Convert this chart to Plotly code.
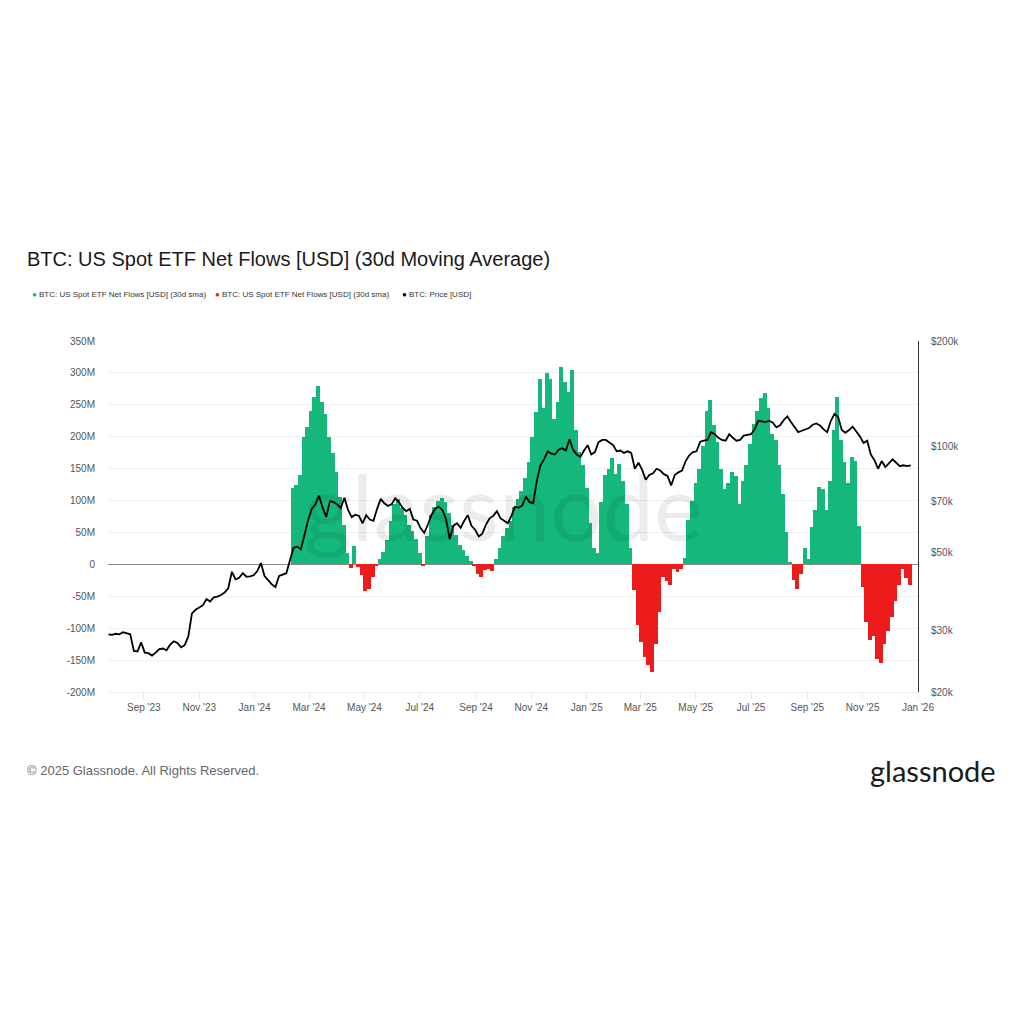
import pandas as pd
import plotly.graph_objects as go

# BTC price [USD, thousands], sampled every 4 days from 2023-07-24
price_start = "2023-07-24"
price_k = [
    29.2, 29.1, 29.3, 29.2, 29.6, 29.4, 29.2, 26.2, 26.1, 27.7,
    25.9, 25.8, 25.4, 25.9, 26.5, 26.6, 26.3, 27.3, 27.9, 27.6,
    26.8, 27.2, 28.8, 33.5, 34.3, 34.8, 35.3, 36.8, 36.2, 37.2,
    37.4, 37.8, 38.4, 39.5, 44.0, 41.9, 42.3, 43.6, 42.6, 42.7,
    43.0, 44.2, 46.6, 42.8, 41.6, 40.5, 39.8, 42.8, 43.2, 43.6,
    47.5, 51.5, 51.9, 51.0, 56.0, 61.8, 66.5, 68.5, 72.5, 67.0,
    63.0, 70.0, 69.5, 68.5, 66.8, 71.5, 66.0, 63.0, 64.0, 63.5,
    60.5, 63.8, 62.0, 61.5, 66.5, 71.0, 69.0, 67.8, 68.5, 71.3,
    69.5, 67.0, 65.5, 66.5, 62.0, 61.5, 58.5, 56.8, 60.0, 64.0,
    66.5, 67.5, 66.0, 62.0, 54.5, 59.5, 60.5, 58.7, 61.5, 63.8,
    59.5, 58.0, 55.5, 56.5, 60.0, 62.5, 63.5, 65.5, 62.5, 61.5,
    60.5, 63.5, 67.4, 67.0, 68.0, 72.0, 69.5, 69.0, 80.0, 88.5,
    92.0, 97.0, 95.5, 95.0, 98.0, 99.0, 97.5, 105.0, 98.0, 95.0,
    93.5, 97.5, 101.0, 95.0, 96.5, 103.0, 104.5, 104.5, 102.5, 101.0,
    97.0, 97.5, 96.0, 97.0, 96.0, 86.5, 90.0, 86.0, 80.5, 83.0,
    84.0, 86.5, 85.5, 83.5, 82.5, 77.5, 83.0, 84.5, 85.5, 91.0,
    94.5, 96.5, 97.0, 103.3, 104.0, 104.5, 110.0, 108.5, 106.0, 104.5,
    104.0, 108.5, 106.0, 104.0, 104.5, 107.5, 108.0, 108.5, 112.0, 118.5,
    118.0, 117.5, 118.5, 117.0, 113.5, 115.0, 119.0, 122.0, 117.5, 113.5,
    110.0, 111.0, 112.0, 113.0, 115.5, 116.5, 115.0, 112.0, 110.0, 118.5,
    124.0, 121.5, 111.5, 109.5, 111.5, 114.0, 110.5, 107.0, 102.5, 104.0,
    95.0, 91.5, 86.5, 91.0, 87.5, 89.5, 92.0, 90.0, 88.0, 88.5,
    88.0, 88.5,
]

# US spot ETF net flows, 30d SMA [USD millions], every 4 days from 2024-02-12
flow_start = "2024-02-12"
flow_m = [
    120, 125, 140, 200, 215, 240, 262, 280, 255, 235,
    200, 175, 145, 105, 61, 18, -5, 28, -4, -17,
    -41, -38, -20, -3, 8, 20, 38, 68, 95, 103,
    88, 77, 62, 52, 40, 18, -3, 45, 78, 90,
    100, 104, 97, 80, 62, 46, 30, 22, 13, 5,
    -3, -15, -20, -9, -7, -10, 8, 25, 45, 57,
    68, 90, 102, 115, 135, 160, 200, 238, 290, 245,
    300, 290, 228, 255, 310, 285, 270, 305, 210, 176,
    155, 120, 65, 25, 18, 98, 140, 150, 166, 142,
    158, 130, 95, 25, -40, -95, -122, -145, -158, -168,
    -125, -75, -20, -26, -32, -8, -12, -7, 10, 70,
    100, 128, 150, 185, 240, 257, 218, 192, 150, 118,
    128, 145, 139, 95, 130, 155, 188, 220, 240, 260,
    268, 245, 205, 195, 155, 110, 50, 4, -25, -38,
    -15, 25, 8, 58, 85, 122, 118, 85, 130, 210,
    262, 195, 160, 128, 168, 162, 60, -35, -90, -118,
    -112, -148, -155, -124, -105, -82, -58, -32, -8, -22,
    -33,
]

flow_ticks = [-200, -150, -100, -50, 0, 50, 100, 150, 200, 250, 300, 350]
flow_tick_text = ["-200M", "-150M", "-100M", "-50M", "0", "50M", "100M",
                  "150M", "200M", "250M", "300M", "350M"]
price_ticks = [20000, 30000, 50000, 70000, 100000, 200000]
price_tick_text = ["$20k", "$30k", "$50k", "$70k", "$100k", "$200k"]

title = "BTC: US Spot ETF Net Flows [USD] (30d Moving Average)"
legend_labels = ["BTC: US Spot ETF Net Flows [USD] (30d sma)",
                 "BTC: US Spot ETF Net Flows [USD] (30d sma)",
                 "BTC: Price [USD]"]
GREEN = "#14b87b"
RED = "#ec1c1c"
BLACK = "#000000"

price_dates = pd.date_range(price_start, periods=len(price_k), freq="4D")
flow_dates = pd.date_range(flow_start, periods=len(flow_m), freq="4D")
flow_usd = [v * 1e6 for v in flow_m]
price_usd = [v * 1000 for v in price_k]
bar_width = 4.4 * 86400000

fig = go.Figure()
pos = [v if v >= 0 else None for v in flow_usd]
neg = [v if v < 0 else None for v in flow_usd]
fig.add_trace(go.Bar(x=flow_dates, y=pos, width=bar_width, marker_color=GREEN,
                     marker_line_width=0, name=legend_labels[0]))
fig.add_trace(go.Bar(x=flow_dates, y=neg, width=bar_width, marker_color=RED,
                     marker_line_width=0, name=legend_labels[1]))
fig.add_trace(go.Scatter(x=price_dates, y=price_usd, mode="lines", yaxis="y2",
                         line=dict(color=BLACK, width=1.8), name=legend_labels[2]))

FONT = "Liberation Sans, Arial, sans-serif"
fig.update_layout(
    width=1024, height=1024,
    paper_bgcolor="white", plot_bgcolor="white",
    margin=dict(l=108, r=106, t=341, b=332),
    showlegend=False, barmode="overlay", bargap=0,
    font=dict(family=FONT, color="#555555", size=10),
    xaxis=dict(
        type="date",
        range=["2023-07-23 12:00", "2026-01-01"],
        tick0="2023-09-01", dtick="M2", tickformat="%b '%y",
        ticks="outside", ticklen=6, tickcolor="#e6e6e6",
        showgrid=False, zeroline=False, showline=True, linecolor="#eeeeee",
        tickfont=dict(size=10, color="#555555"),
    ),
    yaxis=dict(
        range=[-200e6, 350e6],
        tickvals=[v * 1e6 for v in flow_ticks], ticktext=flow_tick_text,
        showgrid=True, gridcolor="#f0f0f0", gridwidth=1,
        zeroline=True, zerolinecolor="#888888", zerolinewidth=1,
        ticks="", ticklabelstandoff=12,
        tickfont=dict(size=10, color="#555555"),
    ),
    yaxis2=dict(
        type="log", overlaying="y", side="right",
        range=[4.30103, 5.30103],
        tickvals=price_ticks, ticktext=price_tick_text,
        showgrid=False, zeroline=False,
        showline=True, linecolor="#333333", linewidth=1,
        ticks="", ticklabelstandoff=10,
        tickfont=dict(size=10, color="#555555"),
    ),
)

ann = []
ann.append(dict(text=title, x=25, y=259, showarrow=False, xanchor="left",
                yanchor="middle", font=dict(family=FONT, size=20, color="#1a1a1a")))
legend_x = [30, 213, 400]
legend_colors = [GREEN, RED, BLACK]
for lx, lc, lt in zip(legend_x, legend_colors, legend_labels):
    ann.append(dict(text="●", x=lx, y=294, showarrow=False, xanchor="left",
                    yanchor="middle", font=dict(family=FONT, size=8, color=lc)))
    ann.append(dict(text=lt, x=lx + 7, y=294, showarrow=False, xanchor="left",
                    yanchor="middle", font=dict(family=FONT, size=8, color="#333333")))
ann.append(dict(text="© 2025 Glassnode. All Rights Reserved.", x=25, y=770,
                showarrow=False, xanchor="left", yanchor="middle",
                font=dict(family=FONT, size=13, color="#666666")))
ann.append(dict(text="glassnode", x=998, y=770, showarrow=False, xanchor="right",
                yanchor="middle", font=dict(family="Lato, sans-serif", size=29, color="#1a1a1a")))
ann.append(dict(text="glassnode", x=503, y=505, showarrow=False, xanchor="center",
                yanchor="middle", font=dict(family="Lato, sans-serif", size=92,
                                            color="rgba(0,0,0,0.075)")))

# convert pixel positions to paper coordinates
pl, pr, pt, pb = 108, 918, 341, 692
for a in ann:
    a["x"] = (a["x"] - pl) / (pr - pl)
    a["y"] = (pb - a["y"]) / (pb - pt)
    a["xref"] = "paper"
    a["yref"] = "paper"
fig.update_layout(annotations=ann)

fig.write_html("out.html")
